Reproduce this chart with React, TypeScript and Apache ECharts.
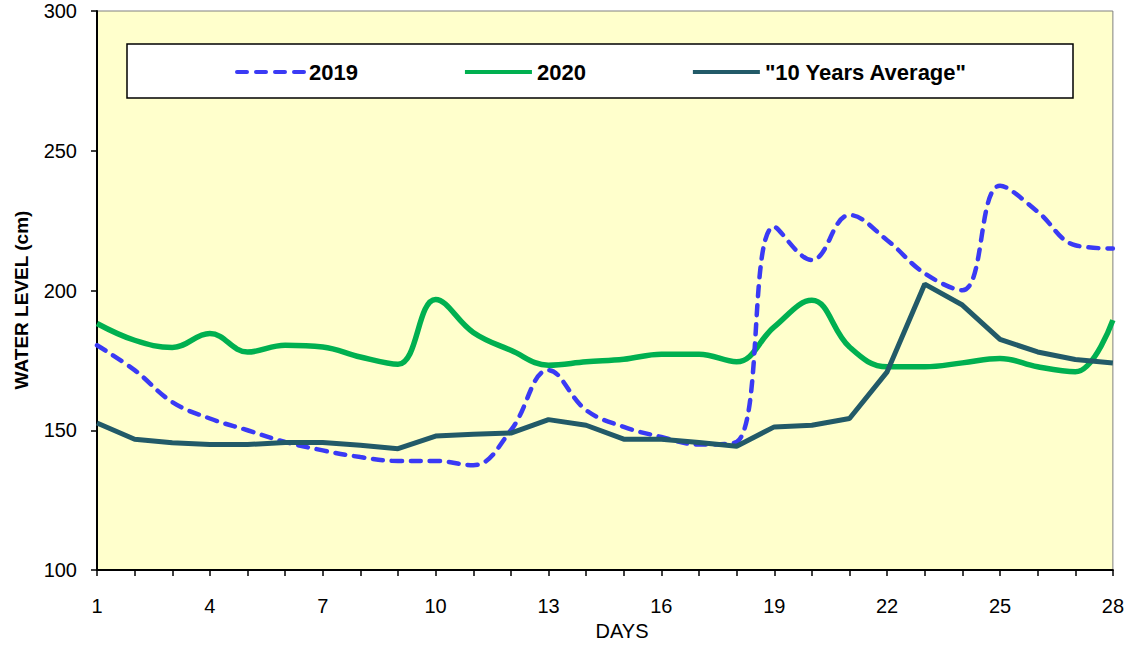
import React, { useEffect, useRef } from "react";
import * as echarts from "echarts";

const days: string[] = Array.from({ length: 28 }, (_, i) => String(i + 1));

const level2019: number[] = [
  180.4, 171.5, 160.1, 154.2, 150, 145.8, 142.8, 140.4, 139, 139, 137.5, 150,
  171.5, 157.2, 151.2, 147.6, 144.9, 145.8, 222.8, 210.9, 227, 218, 206.1,
  200.1, 237.5, 228.2, 216.2, 215,
];

const level2020: number[] = [
  188.2, 182.2, 179.6, 184.6, 178, 180.4, 179.8, 176.2, 173.6, 196.8, 185,
  178.6, 173.3, 174.5, 175.4, 177.2, 177.2, 174.5, 187, 196.5, 179.8, 172.7,
  172.7, 174.1, 175.7, 172.7, 170.9, 189.4,
];

const levelAvg: number[] = [
  152.6, 146.8, 145.5, 144.9, 144.9, 145.6, 145.6, 144.6, 143.4, 147.9, 148.6,
  149, 153.8, 151.8, 146.8, 146.8, 145.6, 144.3, 151.2, 151.8, 154.2, 170.9,
  202.3, 194.8, 182.5, 178, 175.3, 174.1,
];

const seriesNames: string[] = ["2019", "2020", '"10 Years Average"'];
const FONT = "'Liberation Sans', Arial, sans-serif";

export default function App() {
  const ref = useRef<HTMLDivElement>(null);
  useEffect(() => {
    if (!ref.current) return;
    const chart = echarts.init(ref.current, null, { renderer: "svg" });
    const legendItem = (name: string) => ({
      name,
      lineStyle: { width: 4 },
      itemStyle: { opacity: 0 },
    });
    chart.setOption({
      animation: false,
      backgroundColor: "#ffffff",
      grid: {
        left: 97,
        right: 11,
        top: 11,
        bottom: 76,
        show: true,
        backgroundColor: "#FFFFCC",
        borderColor: "#808080",
        borderWidth: 1,
      },
      graphic: [
        {
          type: "rect",
          shape: { x: 127, y: 44, width: 946, height: 54 },
          style: { fill: "#ffffff", stroke: "#000000", lineWidth: 1.5 },
          z: 5,
        },
        {
          type: "text",
          x: 622,
          y: 631,
          style: {
            text: "DAYS",
            font: `20px ${FONT}`,
            fill: "#000",
            align: "center",
            verticalAlign: "middle",
          },
        },
        {
          type: "text",
          x: 21,
          y: 300,
          rotation: Math.PI / 2,
          style: {
            text: "WATER LEVEL (cm)",
            font: `bold 19px ${FONT}`,
            fill: "#000",
            align: "center",
            verticalAlign: "middle",
          },
        },
      ],
      legend: {
        left: 230,
        top: 56,
        itemWidth: 67,
        itemHeight: 14,
        itemGap: 105,
        z: 10,
        itemStyle: { opacity: 0 },
        textStyle: {
          fontFamily: FONT,
          fontSize: 22,
          fontWeight: "bold",
          color: "#000",
        },
        data: seriesNames.map(legendItem),
      },
      xAxis: {
        type: "category",
        data: days,
        boundaryGap: false,
        axisLine: { lineStyle: { color: "#000", width: 2 } },
        axisTick: {
          show: true,
          interval: 0,
          length: 6,
          lineStyle: { color: "#000", width: 1.5 },
        },
        axisLabel: {
          interval: 2,
          margin: 26,
          fontFamily: FONT,
          fontSize: 20,
          color: "#000",
        },
        splitLine: { show: false },
      },
      yAxis: {
        type: "value",
        min: 100,
        max: 300,
        interval: 50,
        axisLine: { show: true, lineStyle: { color: "#000", width: 2 } },
        axisTick: {
          show: true,
          length: 6,
          lineStyle: { color: "#000", width: 1.5 },
        },
        axisLabel: {
          margin: 20,
          fontFamily: FONT,
          fontSize: 20,
          color: "#000",
        },
        splitLine: { show: false },
      },
      series: [
        {
          name: seriesNames[0],
          type: "line",
          data: level2019,
          smooth: 0.4,
          symbol: "none",
          z: 3,
          lineStyle: { color: "#3A3AF5", width: 4.5, type: [10, 9], cap: "round" },
          itemStyle: { color: "#3A3AF5" },
        },
        {
          name: seriesNames[1],
          type: "line",
          data: level2020,
          smooth: 0.4,
          symbol: "none",
          z: 2,
          lineStyle: { color: "#00B050", width: 5.5 },
          itemStyle: { color: "#00B050" },
        },
        {
          name: seriesNames[2],
          type: "line",
          data: levelAvg,
          smooth: false,
          symbol: "none",
          z: 4,
          lineStyle: { color: "#225A68", width: 5 },
          itemStyle: { color: "#225A68" },
        },
      ],
    });
    return () => chart.dispose();
  }, []);
  return (
    <div
      ref={ref}
      style={{ position: "absolute", left: 0, top: 0, width: 1127, height: 646 }}
    />
  );
}
